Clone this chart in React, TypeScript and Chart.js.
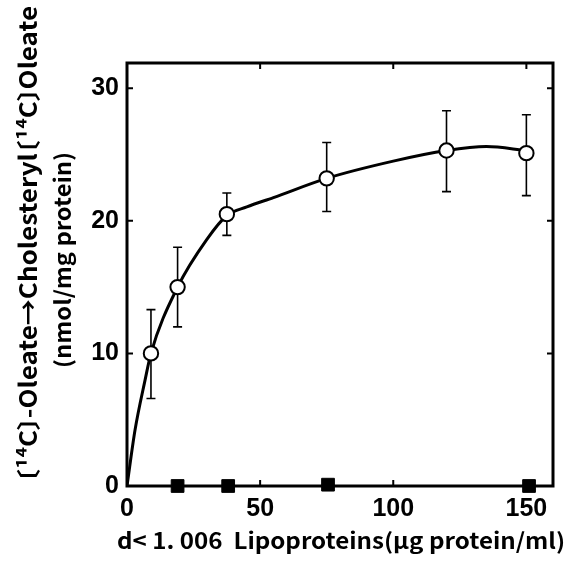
import React, { useEffect, useRef } from "react";
import { Chart, registerables } from "chart.js";

Chart.register(...registerables);

// LDL dose (µg protein/ml) for open circles
const doseX = [9, 19, 37.5, 75, 120, 150];
const meanY = [10.0, 15.0, 20.5, 23.2, 25.3, 25.1];
const errHigh = [13.3, 18.0, 22.1, 25.9, 28.3, 28.0];
const errLow = [6.6, 12.0, 18.9, 20.7, 22.2, 21.9];

// filled squares (control)
const controlX = [19, 38, 75.5, 151];
const controlY = [0, 0, 0.1, 0];

// fitted curve
const curveX = [0, 3, 6.8, 9, 19, 30, 37.5, 45, 55, 75, 100, 120, 135, 150];
const curveY = [0, 4.2, 8.0, 10.0, 15.0, 18.6, 20.4, 21.05, 21.75, 23.2, 24.5, 25.3, 25.6, 25.3];

const xTicks = [0, 50, 100, 150];
const yTicks = [0, 10, 20, 30];

// y title line 1 split into runs so the full-width brackets can be set tight
const yTitle1Runs = ["〔", "¹⁴C", "〕", "-Oleate→Cholesteryl", "〔", "¹⁴C", "〕", "Oleate"];
const yTitle2 = "(nmol/mg protein)";
const xTitle = "d< 1. 006  Lipoproteins(μg protein/ml)";

const tickFont = "'Liberation Sans', Arial, sans-serif";
const titleFont = "'Noto Sans CJK JP', 'Noto Sans', sans-serif";

function fillFit(ctx: CanvasRenderingContext2D, text: string, width: number) {
  const w = ctx.measureText(text).width;
  ctx.save();
  ctx.scale(width / w, 1);
  ctx.fillText(text, 0, 0);
  ctx.restore();
}

function fillRunsFit(ctx: CanvasRenderingContext2D, runs: string[], fs: number, width: number) {
  // lay out runs with tight brackets, centred at origin, scaled to width
  const items: { t: string; dx: number }[] = [];
  let cur = 0;
  runs.forEach((t) => {
    if (t === "〔") {
      items.push({ t, dx: cur - 0.5 * fs });
      cur += 0.5 * fs;
    } else if (t === "〕") {
      items.push({ t, dx: cur - 0.02 * fs });
      cur += 0.45 * fs;
    } else {
      items.push({ t, dx: cur });
      cur += ctx.measureText(t).width;
    }
  });
  const sx = width / cur;
  ctx.save();
  ctx.scale(sx, 1);
  ctx.textAlign = "left";
  items.forEach((it) => ctx.fillText(it.t, it.dx - cur / 2, 0));
  ctx.restore();
}

export default function App() {
  const ref = useRef<HTMLCanvasElement | null>(null);

  useEffect(() => {
    document.body.style.margin = "0";
    const canvas = ref.current;
    if (!canvas) return;

    const framePlugin = {
      id: "frameTicks",
      beforeDatasetsDraw(chart: any) {
        const { ctx, chartArea } = chart;
        const xs = chart.scales.x;
        const ys = chart.scales.y;
        ctx.save();
        ctx.strokeStyle = "#000";
        ctx.lineWidth = 3;
        ctx.strokeRect(chartArea.left, chartArea.top, chartArea.right - chartArea.left, chartArea.bottom - chartArea.top);
        ctx.lineWidth = 2;
        const tl = 6;
        xTicks.slice(1).forEach((v) => {
          const px = xs.getPixelForValue(v);
          ctx.beginPath();
          ctx.moveTo(px, chartArea.bottom);
          ctx.lineTo(px, chartArea.bottom - tl);
          ctx.moveTo(px, chartArea.top);
          ctx.lineTo(px, chartArea.top + tl);
          ctx.stroke();
        });
        yTicks.slice(1).forEach((v) => {
          const py = ys.getPixelForValue(v);
          ctx.beginPath();
          ctx.moveTo(chartArea.left, py);
          ctx.lineTo(chartArea.left + tl, py);
          ctx.moveTo(chartArea.right, py);
          ctx.lineTo(chartArea.right - tl, py);
          ctx.stroke();
        });
        // error bars
        ctx.lineWidth = 1.6;
        doseX.forEach((xv, i) => {
          const px = xs.getPixelForValue(xv);
          const pHi = ys.getPixelForValue(errHigh[i]);
          const pLo = ys.getPixelForValue(errLow[i]);
          const cap = 4.5;
          ctx.beginPath();
          ctx.moveTo(px, pHi);
          ctx.lineTo(px, pLo);
          ctx.moveTo(px - cap, pHi);
          ctx.lineTo(px + cap, pHi);
          ctx.moveTo(px - cap, pLo);
          ctx.lineTo(px + cap, pLo);
          ctx.stroke();
        });
        ctx.restore();
      },
      afterDraw(chart: any) {
        const { ctx } = chart;
        ctx.save();
        ctx.fillStyle = "#000";
        ctx.textAlign = "center";
        ctx.textBaseline = "middle";
        // y title, two rotated lines
        ctx.save();
        ctx.translate(28, 244);
        ctx.rotate(-Math.PI / 2);
        ctx.font = "bold 24px " + titleFont;
        fillRunsFit(ctx, yTitle1Runs, 24, 476);
        ctx.restore();
        ctx.save();
        ctx.translate(63, 260);
        ctx.rotate(-Math.PI / 2);
        ctx.font = "bold 22px " + titleFont;
        fillFit(ctx, yTitle2, 216);
        ctx.restore();
        // x title
        ctx.save();
        ctx.font = "bold 22px " + titleFont;
        ctx.textAlign = "left";
        ctx.translate(117, 541);
        fillFit(ctx, xTitle, 448);
        ctx.restore();
        ctx.restore();
      },
    };

    const chart = new Chart(canvas, {
      type: "scatter",
      data: {
        datasets: [
          {
            type: "line",
            data: curveX.map((x, i) => ({ x, y: curveY[i] })),
            borderColor: "#000",
            borderWidth: 3,
            pointRadius: 0,
            fill: false,
            cubicInterpolationMode: "monotone",
            order: 3,
          } as any,
          {
            data: doseX.map((x, i) => ({ x, y: meanY[i] })),
            pointStyle: "circle",
            pointRadius: 7.2,
            pointBackgroundColor: "#fff",
            pointBorderColor: "#000",
            pointBorderWidth: 2,
            clip: false,
            order: 1,
          } as any,
          {
            data: controlX.map((x, i) => ({ x, y: controlY[i] })),
            pointStyle: "rect",
            pointRadius: 9,
            pointBackgroundColor: "#000",
            pointBorderColor: "#000",
            pointBorderWidth: 1,
            clip: false,
            order: 0,
          } as any,
        ],
      },
      options: {
        animation: false,
        responsive: false,
        devicePixelRatio: 1,
        layout: { padding: { top: 63, right: 14, left: 0, bottom: 0 } },
        plugins: { legend: { display: false }, tooltip: { enabled: false } },
        scales: {
          x: {
            type: "linear",
            min: 0,
            max: 160,
            afterBuildTicks: (s: any) => {
              s.ticks = xTicks.map((v) => ({ value: v }));
            },
            afterFit: (s: any) => {
              s.height = 82;
            },
            grid: { display: false, drawTicks: false },
            border: { display: false },
            ticks: {
              padding: 8,
              color: "#000",
              font: { family: tickFont, size: 25, weight: "bold" },
              maxRotation: 0,
            },
          },
          y: {
            type: "linear",
            min: 0,
            max: 31.9,
            afterBuildTicks: (s: any) => {
              s.ticks = yTicks.map((v) => ({ value: v }));
            },
            afterFit: (s: any) => {
              s.width = 127;
            },
            grid: { display: false, drawTicks: false },
            border: { display: false },
            ticks: {
              padding: 8,
              color: "#000",
              font: { family: tickFont, size: 25, weight: "bold" },
            },
          },
        },
      } as any,
      plugins: [framePlugin],
    });
    return () => chart.destroy();
  }, []);

  return (
    <div style={{ width: 567, height: 568, background: "#fff" }}>
      <canvas ref={ref} width={567} height={568} style={{ display: "block" }} />
    </div>
  );
}
